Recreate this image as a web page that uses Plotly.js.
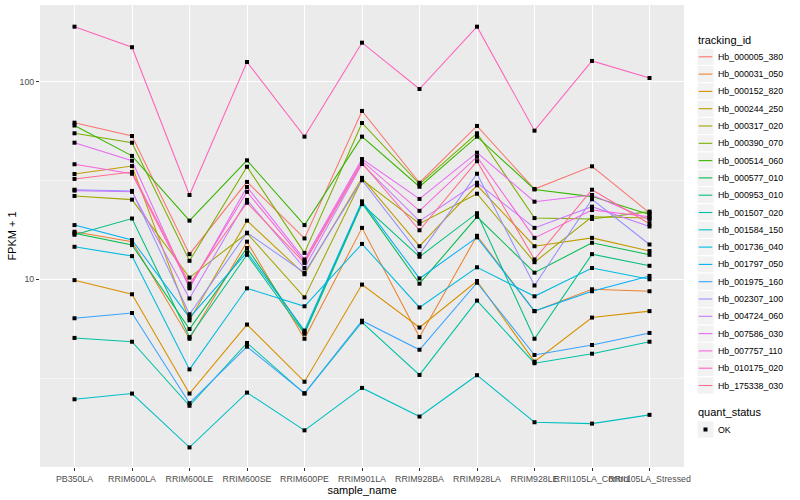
<!DOCTYPE html>
<html>
<head>
<meta charset="utf-8">
<script src="https://cdn.plot.ly/plotly-3.0.1.min.js"></script>
<style>
html,body{margin:0;padding:0;background:#ffffff;}
#chart{width:800px;height:500px;}
</style>
</head>
<body>
<div id="chart"></div>
<script>
// ---- data ----
const samples = ["PB350LA","RRIM600LA","RRIM600LE","RRIM600SE","RRIM600PE","RRIM901LA","RRIM928BA","RRIM928LA","RRIM928LE","RRII105LA_Control","RRII105LA_Stressed"];

const trackingIds = ["Hb_000005_380","Hb_000031_050","Hb_000152_820","Hb_000244_250","Hb_000317_020","Hb_000390_070","Hb_000514_060","Hb_000577_010","Hb_000953_010","Hb_001507_020","Hb_001584_150","Hb_001736_040","Hb_001797_050","Hb_001975_160","Hb_002307_100","Hb_004724_060","Hb_007586_030","Hb_007757_110","Hb_010175_020","Hb_175338_030"];

const seriesColors = ["#F8766D","#EA8331","#D89000","#C09B00","#A3A500","#7CAE00","#39B600","#00BB4E","#00BF7D","#00C1A3","#00BFC4","#00BAE0","#00B0F6","#35A2FF","#9590FF","#C77CFF","#E76BF3","#FA62DB","#FF62BC","#FF6C91"];

// FPKM + 1 per sample (same order as samples)
const hb_000005_380 = [62.0, 53.1, 13.4, 31.1, 16.1, 71.1, 30.8, 59.7, 28.6, 37.3, 21.7];
const hb_000031_050 = [17.4, 15.5, 5.0, 15.5, 5.0, 18.2, 5.1, 16.6, 6.9, 8.9, 8.7];
const hb_000152_820 = [9.9, 8.4, 2.64, 5.9, 3.03, 9.4, 5.7, 9.8, 3.83, 6.4, 6.9];
const hb_000244_250 = [34.1, 37.4, 6.2, 19.8, 10.6, 32.6, 14.7, 29.9, 14.7, 16.2, 13.9];
const hb_000317_020 = [26.4, 25.3, 10.2, 17.1, 8.1, 32.0, 19.1, 27.1, 12.2, 20.7, 20.4];
const hb_000390_070 = [54.8, 49.1, 12.4, 37.1, 13.6, 61.8, 30.3, 54.8, 20.4, 20.2, 22.0];
const hb_000514_060 = [60.0, 42.1, 19.8, 40.0, 18.8, 52.7, 29.4, 52.7, 28.5, 26.2, 21.3];
const hb_000577_010 = [17.1, 14.9, 5.6, 14.4, 5.4, 24.3, 9.5, 20.7, 10.8, 15.3, 13.3];
const hb_000953_010 = [16.8, 20.3, 5.1, 13.3, 5.3, 24.0, 13.0, 21.6, 5.0, 13.4, 11.7];
const hb_001507_020 = [5.05, 4.83, 2.29, 4.76, 2.64, 6.06, 3.28, 7.8, 3.76, 4.2, 4.83];
const hb_001584_150 = [2.47, 2.64, 1.41, 2.67, 1.72, 2.82, 2.02, 3.27, 1.89, 1.86, 2.06];
const hb_001736_040 = [14.6, 13.1, 3.5, 9.0, 7.3, 15.1, 7.2, 11.5, 8.2, 11.4, 10.0];
const hb_001797_050 = [18.8, 15.8, 6.4, 13.7, 5.5, 24.8, 10.1, 16.3, 6.9, 8.7, 10.4];
const hb_001975_160 = [6.35, 6.75, 2.36, 4.56, 2.65, 6.17, 4.4, 9.6, 4.14, 4.65, 5.35];
const hb_002307_100 = [28.4, 28.0, 6.65, 17.2, 10.8, 31.7, 13.4, 34.2, 9.3, 25.4, 15.0];
const hb_004724_060 = [28.1, 27.7, 8.0, 25.2, 11.4, 38.3, 19.7, 30.8, 18.2, 23.3, 18.5];
const hb_007586_030 = [49.1, 39.8, 9.0, 29.3, 12.6, 40.6, 25.5, 43.7, 24.7, 26.7, 20.0];
const hb_007757_110 = [38.2, 34.2, 9.2, 27.7, 12.3, 39.7, 22.2, 41.7, 16.2, 22.4, 20.7];
const hb_010175_020 = [189.8, 149.4, 26.7, 125.8, 52.7, 157.5, 91.8, 189.8, 56.5, 127.3, 104.4];
const hb_175338_030 = [32.2, 34.9, 9.5, 24.4, 12.1, 38.8, 17.7, 39.6, 12.6, 28.4, 19.1];

const seriesValues = [hb_000005_380, hb_000031_050, hb_000152_820, hb_000244_250, hb_000317_020,
  hb_000390_070, hb_000514_060, hb_000577_010, hb_000953_010, hb_001507_020, hb_001584_150,
  hb_001736_040, hb_001797_050, hb_001975_160, hb_002307_100, hb_004724_060, hb_007586_030,
  hb_007757_110, hb_010175_020, hb_175338_030];

const yTickVals = [10, 100];
const yTickText = ["10", "100"];
const yMinorVals = [3.1623, 31.623];
const quantStatus = ["OK"];

// ---- layout constants (pixels) ----
const FONT = "Liberation Sans, Arial, Helvetica, sans-serif";
const P = {left: 40, right: 684, top: 5, bottom: 467};
const W = 800, H = 500;
const px = x => (x - P.left) / (P.right - P.left);
const py = y => (P.bottom - y) / (P.bottom - P.top);

// ---- traces ----
const traces = [];
trackingIds.forEach((id, i) => {
  traces.push({
    type: "scatter", mode: "lines", name: id,
    x: samples, y: seriesValues[i],
    line: {color: seriesColors[i], width: 1.05},
    showlegend: false, hoverinfo: "skip"
  });
});
const allX = [], allY = [];
seriesValues.forEach(v => v.forEach((val, j) => { allX.push(samples[j]); allY.push(val); }));
traces.push({
  type: "scatter", mode: "markers", name: quantStatus[0],
  x: allX, y: allY,
  marker: {symbol: "square", size: 4, color: "#000000", line: {width: 0}},
  showlegend: false, hoverinfo: "skip"
});

// ---- manual ggplot-style legend ----
const shapes = [], annotations = [];
const keyX0 = 697, keyX1 = 714, firstC = 56.8, step = 17.3, half = 8.6;
annotations.push({xref: "paper", yref: "paper", x: px(695.5), y: py(40.5), xanchor: "left", yanchor: "middle",
  text: "tracking_id", showarrow: false, font: {family: FONT, size: 11, color: "#000000"}});
trackingIds.forEach((id, i) => {
  const c = firstC + step * i;
  shapes.push({type: "rect", xref: "paper", yref: "paper", x0: px(keyX0), x1: px(keyX1), y0: py(c - half), y1: py(c + half),
    fillcolor: "#F2F2F2", line: {color: "#FFFFFF", width: 1}, layer: "above"});
  shapes.push({type: "line", xref: "paper", yref: "paper", x0: px(keyX0 + 1.7), x1: px(keyX1 - 1.7), y0: py(c), y1: py(c),
    line: {color: seriesColors[i], width: 1.1}, layer: "above"});
  annotations.push({xref: "paper", yref: "paper", x: px(716.3), y: py(c), xanchor: "left", yanchor: "middle",
    text: id, showarrow: false, font: {family: FONT, size: 8.8, color: "#000000"}});
});
annotations.push({xref: "paper", yref: "paper", x: px(695.5), y: py(412.3), xanchor: "left", yanchor: "middle",
  text: "quant_status", showarrow: false, font: {family: FONT, size: 11, color: "#000000"}});
const okC = 429.5;
shapes.push({type: "rect", xref: "paper", yref: "paper", x0: px(keyX0), x1: px(keyX1), y0: py(okC - half), y1: py(okC + half),
  fillcolor: "#F2F2F2", line: {color: "#FFFFFF", width: 1}, layer: "above"});
shapes.push({type: "rect", xref: "paper", yref: "paper", x0: px(703.5), x1: px(707.5), y0: py(okC - 2), y1: py(okC + 2),
  fillcolor: "#000000", line: {width: 0}, layer: "above"});
annotations.push({xref: "paper", yref: "paper", x: px(716.3), y: py(okC), xanchor: "left", yanchor: "middle",
  text: quantStatus[0], showarrow: false, font: {family: FONT, size: 8.8, color: "#000000"}});

const layout = {
  width: W, height: H,
  margin: {l: P.left, r: W - P.right, t: P.top, b: H - P.bottom, pad: 0},
  paper_bgcolor: "#FFFFFF",
  plot_bgcolor: "#EBEBEB",
  font: {family: FONT, size: 11, color: "#000000"},
  showlegend: false,
  xaxis: {
    type: "category", categoryorder: "array", categoryarray: samples,
    range: [-0.6, 10.6], autorange: false,
    showgrid: true, gridcolor: "#FFFFFF", gridwidth: 1,
    zeroline: false, showline: false,
    ticks: "outside", ticklen: 3, tickwidth: 1, tickcolor: "#333333",
    tickangle: 0, automargin: false,
    tickfont: {family: FONT, size: 8.8, color: "#4D4D4D"},
    title: {text: "sample_name", font: {family: FONT, size: 11, color: "#000000"}, standoff: 0}
  },
  yaxis: {
    type: "log", range: [0.05, 2.388], autorange: false,
    tickmode: "array", tickvals: yTickVals, ticktext: yTickText,
    showgrid: true, gridcolor: "#FFFFFF", gridwidth: 1,
    minor: {tickmode: "array", tickvals: yMinorVals, showgrid: true, gridcolor: "#FFFFFF", gridwidth: 0.53, ticks: ""},
    zeroline: false, showline: false,
    ticks: "outside", ticklen: 3, tickwidth: 1, tickcolor: "#333333",
    automargin: false,
    tickfont: {family: FONT, size: 8.8, color: "#4D4D4D"},
    title: {text: "FPKM + 1", font: {family: FONT, size: 11, color: "#000000"}, standoff: 0}
  },
  shapes: shapes,
  annotations: annotations
};

Plotly.newPlot("chart", traces, layout, {displayModeBar: false, staticPlot: true});
</script>
</body>
</html>
